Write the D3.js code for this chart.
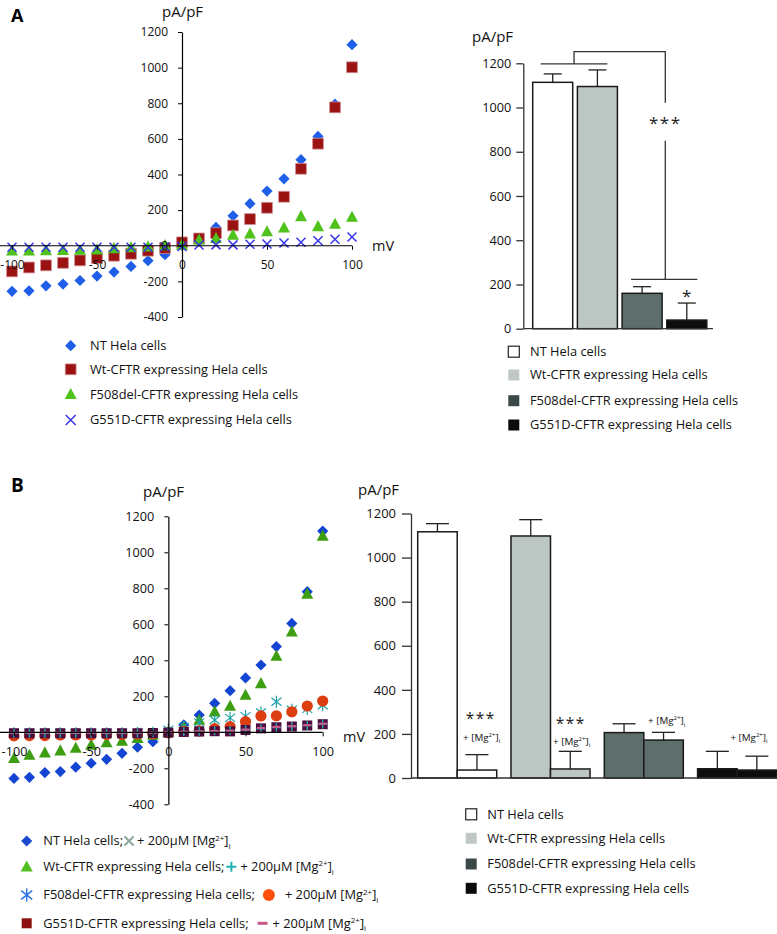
<!DOCTYPE html>
<html>
<head>
<meta charset="utf-8">
<script src="https://cdn.jsdelivr.net/npm/d3@7"></script>
<style>
  body { margin: 0; background: #fff; }
  svg { display: block; }
</style>
</head>
<body>
<div id="fig"></div>
<script>
// ---- data ----
const mV = [-100, -90, -80, -70, -60, -50, -40, -30, -20, -10, 0, 10, 20, 30, 40, 50, 60, 70, 80, 90, 100];
const ivTicksX = [-100, -50, 0, 50, 100];
const ivTicksY = [-400, -200, 0, 200, 400, 600, 800, 1000, 1200];
const barTicks = [0, 200, 400, 600, 800, 1000, 1200];

const cellLabels = ["NT Hela cells", "Wt-CFTR expressing Hela cells", "F508del-CFTR expressing Hela cells", "G551D-CFTR expressing Hela cells"];

// panel A, I/V curves (pA/pF)
const ntA   = [-256, -253, -225, -215, -195, -170, -148, -116, -84, -50, 2, 30, 103, 168, 236, 307, 376, 483, 614, 795, 1129];
const wtA   = [-144, -122, -110, -96, -82, -69, -56, -45, -28, -13, 19, 41, 71, 114, 150, 213, 275, 432, 573, 777, 1002];
const f508A = [-28, -28, -26, -25, -24, -22, -15, -10, -5, 2, 5, 34, 42, 60, 67, 80, 101, 165, 109, 122, 161];
const g551A = [-8, -8, -8, -8, -8, -8, -8, -8, -8, -6, -4, 4, 5, 5, 8, 10, 15, 20, 28, 37, 49];

// panel A, bars (mean, SEM)
const barMeanA = [1114, 1095, 160, 39];
const barErrA  = [38, 75, 30, 77];

// panel B, I/V curves (pA/pF)
const ntB     = [-256, -250, -224, -218, -194, -172, -150, -117, -83, -52, 0, 41, 96, 161, 231, 302, 374, 476, 605, 781, 1118];
const ntMgB   = [-8, -8, -8, -8, -8, -8, -8, -6, -6, -4, 0, 5, 8, 10, 12, 15, 20, 25, 30, 35, 42];
const wtB     = [-144, -126, -113, -102, -87, -70, -57, -48, -33, -15, 4, 31, 68, 115, 146, 207, 272, 424, 559, 768, 1091];
const wtMgB   = [-5, -5, -5, -5, -5, -5, -5, -5, -4, -3, 0, 4, 6, 8, 10, 14, 20, 26, 32, 38, 46];
const f508B   = [-5, -5, -5, -5, -5, -5, -5, -5, -4, -2, 15, 30, 55, 68, 80, 90, 110, 170, 125, 130, 150];
const f508MgB = [-20, -18, -18, -15, -15, -15, -12, -12, -10, -8, -3, 5, 8, 20, 31, 59, 91, 92, 114, 146, 174];
const g551B   = [-5, -5, -5, -5, -5, -5, -5, -5, -5, -4, -2, 2, 4, 6, 5, 13, 22, 28, 32, 38, 45];
const g551MgB = [-2, -2, -2, -2, -2, -2, -2, -2, -2, -2, 0, 3, 5, 7, 8, 15, 24, 30, 34, 40, 48];

// panel B, bars (mean, SEM) without / with Mg2+
const barMeanB   = [1117, 1098, 206, 42];
const barErrB    = [37, 74, 40, 79];
const barMeanBMg = [36, 41, 172, 36];
const barErrBMg  = [70, 80, 35, 63];

// ---- drawing ----
const FONT = '"Open Sans", "Noto Sans", sans-serif';
const W = 777, H = 934;

const svg = d3.select("#fig").append("svg")
  .attr("width", W).attr("height", H)
  .attr("font-family", FONT);
svg.append("rect").attr("width", W).attr("height", H).attr("fill", "#fff");

// size legend text so the longest-ish label gets the width it has in the figure (~178px)
const probe = svg.append("text").attr("font-size", 13).text(cellLabels[1]);
const LEG_FS = Math.min(16, Math.max(11, 13 * 178 / (probe.node().getComputedTextLength() || 178)));
probe.remove();

function shape(type, r) {
  switch (type) {
    case "diamond": return `M0,${-r}L${r},0L0,${r}L${-r},0Z`;
    case "square": return `M${-r},${-r}H${r}V${r}H${-r}Z`;
    case "triangle": return `M0,${-r * 1.05}L${r},${r * 0.8}L${-r},${r * 0.8}Z`;
    case "circle": return `M${r},0A${r},${r} 0 1,1 ${-r},0A${r},${r} 0 1,1 ${r},0Z`;
    case "x": return `M${-r},${-r}L${r},${r}M${r},${-r}L${-r},${r}`;
    case "plus": return `M${-r},0H${r}M0,${-r}V${r}`;
    case "asterisk": return `M${-r},${-r * 0.8}L${r},${r * 0.8}M${r},${-r * 0.8}L${-r},${r * 0.8}M0,${-r * 1.2}V${r * 1.2}`;
    case "dash": return `M${-r},0H${r}`;
  }
}
const lineShapes = ["x", "plus", "asterisk", "dash"];

function marker(sel, m) {
  const p = sel.attr("d", shape(m.type, m.r));
  if (lineShapes.includes(m.type)) {
    p.attr("fill", "none").attr("stroke", m.color).attr("stroke-width", m.sw || 1.5);
  } else {
    p.attr("fill", m.color).attr("stroke", m.stroke || "none").attr("stroke-width", m.sw || 0);
  }
  return p;
}

function mgText(t, prefix, fs) {
  t.append("tspan").text(prefix + "[Mg");
  t.append("tspan").attr("font-size", fs * 0.62).attr("dy", -fs * 0.38).text("2+");
  t.append("tspan").attr("dy", fs * 0.38).text("]");
  t.append("tspan").attr("font-size", fs * 0.62).attr("dy", fs * 0.28).text("i");
}

function ivPanel(cfg) {
  const x = d3.scaleLinear().domain([-100, 100]).range(cfg.xr);
  const y = d3.scaleLinear().domain([-400, 1200]).range(cfg.yr);
  const g = svg.append("g");

  // series
  cfg.series.forEach(s => {
    g.append("g").selectAll("path")
      .data(s.values)
      .join("path")
      .attr("transform", (d, i) => `translate(${x(mV[i])},${y(d)})`)
      .call(marker, s);
  });

  // axes
  const gx = g.append("g")
    .attr("transform", `translate(0,${y(0)})`)
    .call(d3.axisBottom(x).tickValues(ivTicksX).tickSize(4).tickPadding(11).tickSizeOuter(0).tickFormat(d => String(d)));
  gx.select(".domain").remove();
  gx.append("line").attr("x1", 0).attr("x2", x(100)).attr("stroke", "#000").attr("stroke-width", 1.2);

  const gy = g.append("g")
    .attr("transform", `translate(${x(0)},0)`)
    .call(d3.axisLeft(y).tickValues(ivTicksY).tickSize(4).tickPadding(10).tickSizeOuter(0).tickFormat(d => String(d)));
  gy.select(".domain").attr("stroke-width", 1.2);

  [gx, gy].forEach(a => {
    a.attr("font-family", FONT).attr("font-size", cfg.fs);
    a.selectAll("text").attr("fill", "#111");
    a.selectAll("line").attr("stroke", "#000");
  });

  g.append("text").attr("x", cfg.unitPos[0]).attr("y", cfg.unitPos[1])
    .attr("font-size", 15).attr("fill", "#111").text("pA/pF");
  g.append("text").attr("x", cfg.mvPos[0]).attr("y", cfg.mvPos[1])
    .attr("font-size", 14.5).attr("fill", "#111").text("mV");
}

// ---------- Panel A ----------
svg.append("text").attr("x", 11).attr("y", 21.5).attr("font-size", 18).attr("font-weight", "bold").text("A");
svg.append("text").attr("x", 11).attr("y", 491.5).attr("font-size", 19).attr("font-weight", "bold").text("B");

const seriesA = [
  { values: ntA, type: "diamond", r: 5.6, color: "#1f5fe8" },
  { values: wtA, type: "square", r: 5.4, color: "#9a1212", stroke: "#d08a90", sw: 0.8 },
  { values: f508A, type: "triangle", r: 6, color: "#4fc21c" },
  { values: g551A, type: "x", r: 4.5, color: "#3636e6", sw: 1.5 }
];
ivPanel({
  xr: [12, 352], yr: [317, 32], fs: 12,
  series: seriesA,
  unitPos: [162, 17], mvPos: [372, 251]
});

// legend A (I/V)
const legA = svg.append("g");
cellLabels.forEach((lab, i) => {
  const yy = [345.7, 369.3, 394.3, 420][i];
  const m = seriesA[i];
  const mm = Object.assign({}, m);
  if (m.type === "x") mm.r = 5;
  legA.append("path").attr("transform", `translate(70.7,${yy})`).call(marker, mm);
  legA.append("text").attr("x", 90).attr("y", yy).attr("dy", "0.35em")
    .attr("font-size", LEG_FS).attr("fill", "#111").text(lab);
});

// bars A
const barFill = ["#ffffff", "#bcc6c3", "#5e6e6c", "#0d0d0d"];
const legendFill = ["#ffffff", "#bfc8c5", "#3a4847", "#0a0a0a"];
{
  const y = d3.scaleLinear().domain([0, 1200]).range([328.7, 63.3]);
  const x = d3.scaleBand().domain(cellLabels).range([532.7, 706.8]).paddingInner(0.105);
  const g = svg.append("g");
  const bw = x.bandwidth();

  g.selectAll("line.err")
    .data(cellLabels)
    .join("line")
    .attr("x1", d => x(d) + bw / 2).attr("x2", d => x(d) + bw / 2)
    .attr("y1", (d, i) => y(barMeanA[i])).attr("y2", (d, i) => y(barMeanA[i] + barErrA[i]))
    .attr("stroke", "#222").attr("stroke-width", 1.3);
  g.selectAll("line.cap")
    .data(cellLabels)
    .join("line")
    .attr("x1", d => x(d) + bw / 2 - 9).attr("x2", d => x(d) + bw / 2 + 9)
    .attr("y1", (d, i) => y(barMeanA[i] + barErrA[i])).attr("y2", (d, i) => y(barMeanA[i] + barErrA[i]))
    .attr("stroke", "#222").attr("stroke-width", 1.3);

  g.selectAll("rect.bar")
    .data(cellLabels)
    .join("rect")
    .attr("x", d => x(d)).attr("width", bw)
    .attr("y", (d, i) => y(barMeanA[i])).attr("height", (d, i) => y(0) - y(barMeanA[i]))
    .attr("fill", (d, i) => barFill[i]).attr("stroke", "#1a1a1a").attr("stroke-width", 1.5);

  const gy = g.append("g").attr("transform", "translate(523.3,0)")
    .call(d3.axisLeft(y).tickValues(barTicks).tickSize(7).tickPadding(5).tickSizeOuter(0).tickFormat(d => String(d)));
  gy.attr("font-family", FONT).attr("font-size", 12.7);
  gy.selectAll("text").attr("fill", "#111");
  gy.selectAll("line,path").attr("stroke", "#333").attr("stroke-width", 1.3);
  g.append("line").attr("x1", 523.3).attr("x2", 713).attr("y1", y(0)).attr("y2", y(0))
    .attr("stroke", "#333").attr("stroke-width", 1.3);

  // significance brackets
  const br = g.append("g").attr("stroke", "#333").attr("stroke-width", 1.3).attr("fill", "none");
  const xNT = x(cellLabels[0]), xWt = x(cellLabels[1]), xF = x(cellLabels[2]), xG = x(cellLabels[3]);
  const midTop = (xNT + 8 + xWt + bw - 10) / 2;
  br.append("line").attr("x1", xNT + 8).attr("x2", xWt + bw - 10).attr("y1", y(1197)).attr("y2", y(1197));
  br.append("path").attr("d", `M${midTop},${y(1197)}V${y(1253)}H${xG - 1.5}V${y(1022)}`);
  br.append("path").attr("d", `M${xG - 1.5},${y(850)}V${y(223)}`);
  br.append("line").attr("x1", xF + 9).attr("x2", xG + bw - 9.5).attr("y1", y(223)).attr("y2", y(223));
  g.append("text").attr("x", xG - 1.5).attr("y", y(943)).attr("dy", "0.55em")
    .attr("text-anchor", "middle").attr("font-size", 17).attr("letter-spacing", 1.5).attr("fill", "#222").text("***");
  g.append("text").attr("x", xG + bw / 2).attr("y", y(163)).attr("dy", "0.55em")
    .attr("text-anchor", "middle").attr("font-size", 17).attr("fill", "#222").text("*");

  g.append("text").attr("x", 472).attr("y", 42).attr("font-size", 15).attr("fill", "#111").text("pA/pF");

  const leg = svg.append("g");
  cellLabels.forEach((lab, i) => {
    const yy = [351.7, 375, 400.7, 425][i];
    leg.append("rect").attr("x", 508.3).attr("y", yy - 5.5).attr("width", 11).attr("height", 11)
      .attr("fill", legendFill[i]).attr("stroke", i === 0 ? "#222" : "none").attr("stroke-width", 1.2);
    leg.append("text").attr("x", 530).attr("y", yy).attr("dy", "0.35em")
      .attr("font-size", LEG_FS).attr("fill", "#111").text(lab);
  });
}

// ---------- Panel B ----------
const seriesB = [
  { values: ntB, type: "diamond", r: 5.6, color: "#1444d2" },
  { values: ntMgB, type: "x", r: 4.5, color: "#7fa39c", sw: 1.5 },
  { values: wtB, type: "triangle", r: 6, color: "#3e9e12" },
  { values: f508B, type: "asterisk", r: 5, color: "#1ea0a8", sw: 1.2 },
  { values: f508MgB, type: "circle", r: 5.6, color: "#dc3e12" },
  { values: g551B, type: "square", r: 5, color: "#4c0c3e" },
  { values: wtMgB, type: "plus", r: 4.5, color: "#24a8b0", sw: 1.4 },
  { values: g551MgB, type: "dash", r: 4, color: "#c65c8c", sw: 2.2 }
];
ivPanel({
  xr: [14, 322.7], yr: [804.3, 516.3], fs: 12.7,
  series: seriesB,
  unitPos: [143, 497], mvPos: [343, 742]
});

// legend B (I/V) with inline second markers
{
  const leg = svg.append("g");
  const first = [
    { type: "diamond", r: 5.6, color: "#1a4ad0" },
    { type: "triangle", r: 6, color: "#50c020" },
    { type: "asterisk", r: 5.5, color: "#2a70e8", sw: 1.4 },
    { type: "square", r: 5, color: "#8c1010" }
  ];
  const second = [
    { type: "x", r: 4.5, color: "#8aa8a0", sw: 2 },
    { type: "plus", r: 5, color: "#20b0b0", sw: 2 },
    { type: "circle", r: 6, color: "#ff5010" },
    { type: "dash", r: 5, color: "#c85a8a", sw: 3 }
  ];
  const markGap = [6, 7, 14, 14];
  const textGap = [8, 9, 16, 10];
  cellLabels.forEach((lab, i) => {
    const yy = [841, 866.7, 895, 923.3][i];
    leg.append("path").attr("transform", `translate(26.7,${yy})`).call(marker, first[i]);
    const t1 = leg.append("text").attr("x", 43.3).attr("y", yy).attr("dy", "0.35em")
      .attr("font-size", LEG_FS).attr("fill", "#111").text(lab + ";");
    const end = 43.3 + t1.node().getComputedTextLength();
    const mx = end + markGap[i];
    leg.append("path").attr("transform", `translate(${mx},${yy})`).call(marker, second[i]);
    const t2 = leg.append("text").attr("x", mx + textGap[i]).attr("y", yy).attr("dy", "0.35em")
      .attr("font-size", LEG_FS).attr("fill", "#111");
    mgText(t2, "+ 200\u03bcM ", LEG_FS);
  });
}

// bars B
{
  const y = d3.scaleLinear().domain([0, 1200]).range([778, 513.5]);
  const x = d3.scaleBand().domain(cellLabels).range([417.7, 776.6]).paddingInner(0.153);
  const xi = d3.scaleBand().domain(["ctrl", "mg"]).range([0, x.bandwidth()]);
  const bw = xi.bandwidth();
  const g = svg.append("g");

  const rows = [];
  cellLabels.forEach((c, i) => {
    rows.push({ c, k: "ctrl", i, mean: barMeanB[i], err: barErrB[i] });
    rows.push({ c, k: "mg", i, mean: barMeanBMg[i], err: barErrBMg[i] });
  });
  const cx = d => x(d.c) + xi(d.k) + bw / 2;

  g.selectAll("line.err").data(rows).join("line")
    .attr("x1", cx).attr("x2", cx)
    .attr("y1", d => y(d.mean)).attr("y2", d => y(d.mean + d.err))
    .attr("stroke", "#222").attr("stroke-width", 1.3);
  g.selectAll("line.cap").data(rows).join("line")
    .attr("x1", d => cx(d) - 11.5).attr("x2", d => cx(d) + 11.5)
    .attr("y1", d => y(d.mean + d.err)).attr("y2", d => y(d.mean + d.err))
    .attr("stroke", "#222").attr("stroke-width", 1.3);
  g.selectAll("rect.bar").data(rows).join("rect")
    .attr("x", d => x(d.c) + xi(d.k)).attr("width", bw)
    .attr("y", d => y(d.mean)).attr("height", d => y(0) - y(d.mean))
    .attr("fill", d => barFill[d.i]).attr("stroke", "#1a1a1a").attr("stroke-width", 1.5);

  const gy = g.append("g").attr("transform", "translate(411,0)")
    .call(d3.axisLeft(y).tickValues(barTicks).tickSize(9).tickPadding(6).tickSizeOuter(0).tickFormat(d => String(d)));
  gy.attr("font-family", FONT).attr("font-size", 13);
  gy.selectAll("text").attr("fill", "#111");
  gy.selectAll("line,path").attr("stroke", "#333").attr("stroke-width", 1.3);
  g.append("line").attr("x1", 411).attr("x2", W).attr("y1", y(0)).attr("y2", y(0))
    .attr("stroke", "#333").attr("stroke-width", 1.3);

  // annotations
  const notes = [
    { x: 481.7, v: 185, stars: true, sv: 283 },
    { x: 571.7, v: 167, stars: true, sv: 262 },
    { x: 666.7, v: 260, stars: false },
    { x: 749, v: 185, stars: false }
  ];
  notes.forEach(n => {
    const t = g.append("text").attr("x", n.x).attr("y", y(n.v)).attr("dy", "0.35em")
      .attr("text-anchor", "middle").attr("font-size", 9.8).attr("fill", "#111");
    mgText(t, "+ ", 9.8);
    if (n.stars) {
      g.append("text").attr("x", n.x - 1).attr("y", y(n.sv)).attr("dy", "0.55em")
        .attr("text-anchor", "middle").attr("font-size", 15.5).attr("letter-spacing", 1.5)
        .attr("fill", "#222").text("***");
    }
  });

  g.append("text").attr("x", 358).attr("y", 495).attr("font-size", 15).attr("fill", "#111").text("pA/pF");

  const leg = svg.append("g");
  cellLabels.forEach((lab, i) => {
    const yy = [814.3, 838.3, 864, 888.3][i];
    leg.append("rect").attr("x", 465.7).attr("y", yy - 5.5).attr("width", 11).attr("height", 11)
      .attr("fill", legendFill[i]).attr("stroke", i === 0 ? "#222" : "none").attr("stroke-width", 1.2);
    leg.append("text").attr("x", 487.3).attr("y", yy).attr("dy", "0.35em")
      .attr("font-size", LEG_FS).attr("fill", "#111").text(lab);
  });
}
</script>
</body>
</html>
